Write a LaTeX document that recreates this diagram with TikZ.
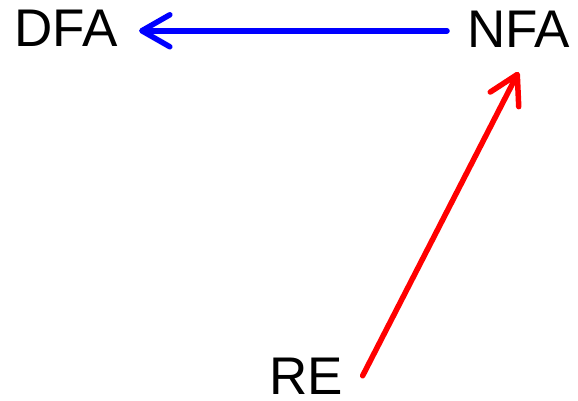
\documentclass[tikz,border=0pt]{standalone}
\usepackage{fontspec}
\setmainfont{Liberation Sans}
\usetikzlibrary{arrows.meta}
\tikzset{
  lbl/.style={inner sep=0pt, outer sep=0pt, font=\fontsize{53}{53}\selectfont},
  conn/.style={line width=5.5pt, line cap=round, -{Straight Barb[length=28pt,width=32pt,line cap=round,line join=round]}}
}
\begin{document}
\begin{tikzpicture}[x=1pt,y=-1pt]
\useasboundingbox (0,0) rectangle (578,401);
\node[lbl, anchor=base west] (dfa) at (14.5,47) {DFA};
\node[lbl, anchor=base west] (nfa) at (467,48) {NFA};
\node[lbl, anchor=base west] (re) at (269,394) {RE};
\draw[conn, blue] ([shift={(-20,1)}]nfa.west) -- ([shift={(21.5,2)}]dfa.east);
\draw[conn, red] ([shift={(20,0)}]re.east) -- ([shift={(0,24)}]nfa.south);
\end{tikzpicture}
\end{document}
